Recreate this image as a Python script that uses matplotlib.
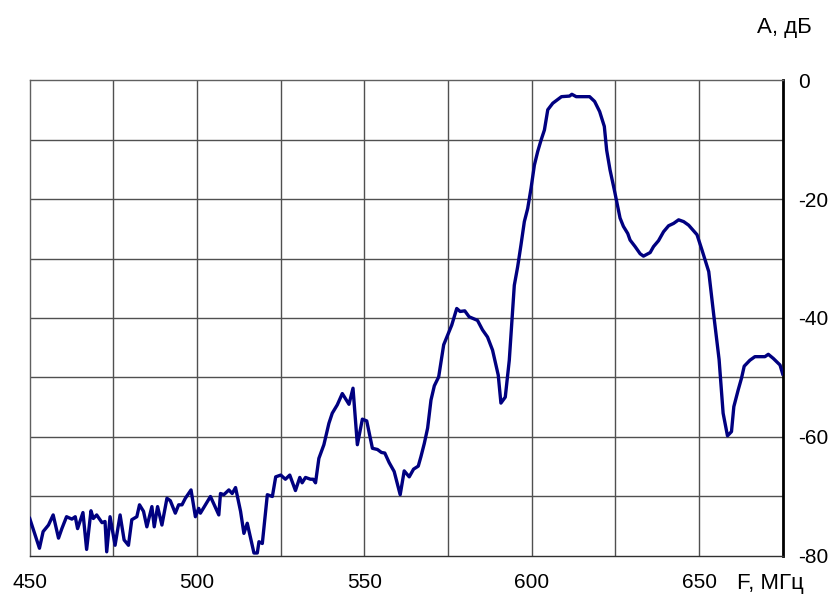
import matplotlib
matplotlib.use('Agg')
import matplotlib.pyplot as plt

plt.rcParams['font.family'] = ['Liberation Sans', 'DejaVu Sans']
plt.rcParams['axes.unicode_minus'] = False

# frequency, MHz
freq = [450, 452.9, 454, 455.6, 457, 458.6, 459.6, 461, 462.6, 463.6, 464.3, 465.9,
        467, 468.3, 469, 470, 471.6, 472.5, 473, 474, 475.5, 477, 478.2, 479.5, 480.5,
        482, 482.8, 484, 485, 486.5, 487.2, 488.2, 489.5, 491, 492, 493.5, 494.5, 495.5,
        496.5, 498.2, 499.5, 500.5, 501, 502.5, 504, 506.5, 507, 508, 509.5, 510.5,
        511.5, 513, 514, 515, 516, 517, 518, 518.5, 519.5, 521, 522.5, 523.5, 525,
        526.4, 527.7, 529.4, 530.7, 531.4, 532.4, 533.9, 534.7, 535.4, 536.4, 537.9,
        539.4, 540.4, 541.9, 543.4, 545.4, 546.6, 547.9, 549.4, 550.7, 552.4, 553.9,
        555.1, 556.1, 557.4, 558.9, 560.7, 561.9, 563.4, 564.7, 566.1, 566.9, 567.9,
        568.9, 569.9, 570.9, 572.2, 573.7, 575.1, 576.1, 577.6, 578.6, 580, 581.3,
        583.8, 585.3, 586.8, 588.3, 590, 590.8, 592.1, 593.3, 594.8, 595.8, 596.8,
        597.8, 598.8, 599.8, 600.8, 601.8, 602.8, 603.8, 604.8, 606.3, 608.9, 611.3,
        612, 613.3, 617.3, 618.8, 620.3, 621.7, 622.4, 623.4, 624.7, 625.9, 626.4,
        627.4, 628.7, 629.4, 630.9, 632.4, 633.4, 635.4, 636.4, 637.9, 639.4, 640.9,
        642.4, 643.9, 645.4, 646.9, 649.4, 650.9, 652.9, 654.4, 656.0, 657.2, 658.5,
        659.7, 660.4, 661.7, 662.7, 663.5, 665.2, 666.7, 669.7, 670.7, 672.2, 674.2, 675]

# attenuation, dB
level = [-73.7, -78.7, -75.9, -74.8, -73.1, -77, -75.4, -73.4, -73.8, -73.4, -75.4, -72.7,
         -78.9, -72.4, -73.7, -73.1, -74.4, -74.2, -79.3, -73.4, -78.2, -73.1, -77.3, -78.2, -73.9,
         -73.4, -71.4, -72.5, -75.1, -71.7, -75.1, -71.7, -74.8, -70.3, -70.7, -72.8, -71.4, -71.4,
         -70.3, -68.9, -73.4, -72, -72.8, -71.4, -70, -73.1, -69.5, -69.7, -68.9, -69.5,
         -68.5, -72.5, -76.2, -74.5, -77, -79.5, -79.5, -77.6, -77.9, -69.7, -70, -66.7, -66.4,
         -67.1, -66.4, -69, -66.8, -67.7, -66.8, -67.1, -67.1, -67.7, -63.6, -61.3,
         -57.7, -56, -54.6, -52.7, -54.5, -51.8, -61.3, -57, -57.3, -61.9, -62.1,
         -62.6, -62.7, -64.3, -65.8, -69.7, -65.7, -66.7, -65.4, -64.9, -63.3, -61.1,
         -58.5, -53.8, -51.4, -49.9, -44.5, -42.6, -41.2, -38.4, -38.9, -38.8, -39.8,
         -40.4, -42, -43.2, -45.4, -49.6, -54.3, -53.3, -47.1, -34.5, -31.4, -27.7,
         -23.8, -21.6, -18.2, -14.3, -12, -10.1, -8.4, -5, -3.9, -2.8, -2.7,
         -2.4, -2.8, -2.8, -3.6, -5.3, -7.8, -11.8, -15.1, -18.5, -21.8, -23.2,
         -24.6, -25.8, -26.9, -28, -29.2, -29.6, -29, -28, -27, -25.5, -24.5,
         -24.1, -23.5, -23.8, -24.4, -26, -28.6, -32.2, -39.5, -47, -56, -59.8,
         -59.1, -54.9, -52.1, -50.1, -48.1, -47.1, -46.5, -46.5, -46.1, -46.8, -47.9, -49.4]

xticks = [450, 500, 550, 600, 650]
yticks = [0, -20, -40, -60, -80]

fig = plt.figure(figsize=(8.33, 5.94), dpi=100)
ax = fig.add_axes([0.0357, 0.064, 0.9039, 0.8013])

ax.set_xlim(450, 675)
ax.set_ylim(-80, 0)

# grid every 25 MHz / 10 dB
for x in range(475, 675, 25):
    ax.axvline(x, color='#505050', lw=1, zorder=1)
for y in range(-70, 0, 10):
    ax.axhline(y, color='#505050', lw=1, zorder=1)

ax.plot(freq, level, color='#000080', lw=2.4, zorder=3)

for side in ['left', 'top']:
    ax.spines[side].set_color('#606060')
    ax.spines[side].set_linewidth(1)
ax.spines['bottom'].set_color('#303030')
ax.spines['bottom'].set_linewidth(1)
ax.spines['right'].set_color('black')
ax.spines['right'].set_linewidth(2)

ax.set_xticks(xticks)
ax.set_xticklabels([str(v) for v in xticks])
ax.set_yticks(yticks)
ax.set_yticklabels([str(v) for v in yticks])
ax.yaxis.tick_right()
ax.tick_params(axis='x', length=0, pad=12, labelsize=15)
ax.tick_params(axis='y', length=0, pad=11, labelsize=15)

fig.text(737 / 833, 1 - 583 / 594, 'F, МГц', fontsize=16, ha='left', va='center')
fig.text(757 / 833, 1 - 28 / 594, 'A, дБ', fontsize=16, ha='left', va='center')

fig.savefig('out.png', dpi=100)
